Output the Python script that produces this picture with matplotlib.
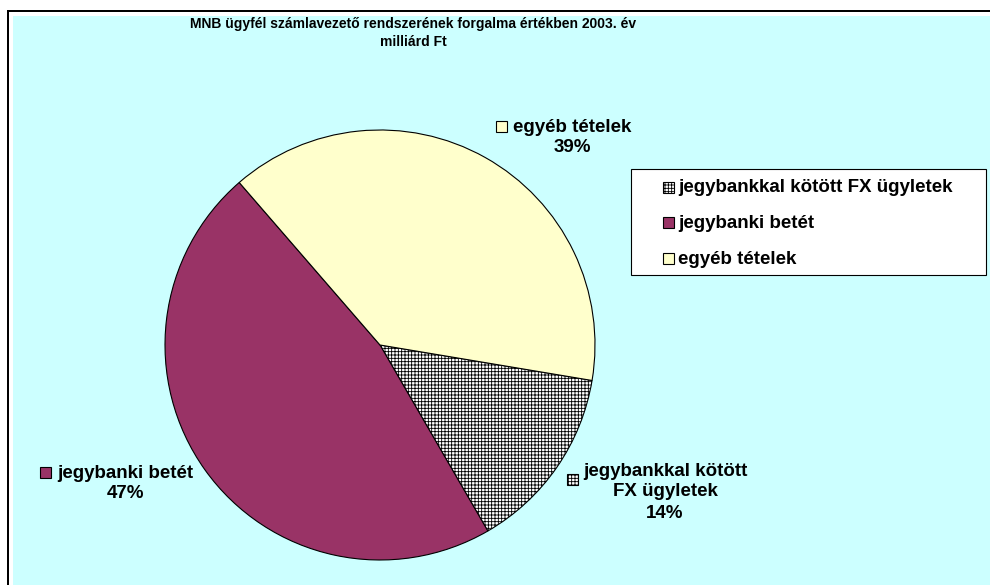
import matplotlib
matplotlib.use("Agg")
import matplotlib.pyplot as plt
from matplotlib.patches import Rectangle

# ==========================================
# DATA
# ==========================================
categories = ['jegybankkal kötött FX ügyletek', 'jegybanki betét', 'egyéb tételek']
label_text = ['jegybankkal kötött\nFX ügyletek', 'jegybanki betét', 'egyéb tételek']
shares = [14, 47, 39]
title = 'MNB ügyfél számlavezető rendszerének forgalma értékben 2003. év\nmilliárd Ft'

# ==========================================
# STYLE
# ==========================================
colors = ['white', '#993366', '#FFFFCC']
hatches = ['+++++', None, None]
bg = '#CCFFFF'

plt.rcParams['font.family'] = ['Liberation Sans', 'DejaVu Sans']
plt.rcParams['font.weight'] = 'bold'
plt.rcParams['hatch.linewidth'] = 0.6

W, H = 990, 585
fig = plt.figure(figsize=(W / 100, H / 100), dpi=100)
fig.patch.set_facecolor('white')


def fx(x):
    return x / W


def fy(y):
    return 1 - y / H


def px_rect(x0, y0, x1, y1, **kw):
    # rectangle given in pixel coords (y down)
    return Rectangle((fx(x0), fy(y1)), fx(x1) - fx(x0), fy(y0) - fy(y1),
                     transform=fig.transFigure, figure=fig, **kw)


def key_box(x0, y0, i):
    # small legend key square, 11 px
    return px_rect(x0, y0, x0 + 11, y0 + 11, facecolor=colors[i], edgecolor='black',
                   linewidth=0.8, hatch=hatches[i], zorder=5)


# chart frame: black top/left edge, white gap, cyan area
fig.patches.append(px_rect(7, 10, W + 5, H + 5, facecolor='black', edgecolor='none', zorder=-3))
fig.patches.append(px_rect(9, 12, W + 5, H + 5, facecolor='white', edgecolor='none', zorder=-2))
fig.patches.append(px_rect(13, 16, W + 5, H + 5, facecolor=bg, edgecolor='none', zorder=-1))

fig.text(fx(413), fy(33), title, ha='center', va='center', fontsize=10,
         linespacing=1.3)

# ==========================================
# PIE
# ==========================================
cx, cy, r = 380, 345, 215
ax = fig.add_axes([fx(cx - r), fy(cy + r), 2 * r / W, 2 * r / H])
ax.set_zorder(1)
wedges, _ = ax.pie(shares, colors=colors, startangle=-9.5, counterclock=False,
                   wedgeprops=dict(edgecolor='black', linewidth=0.8))
for w, h in zip(wedges, hatches):
    if h:
        w.set_hatch(h)
ax.set_xlim(-1, 1)
ax.set_ylim(-1, 1)
ax.set_axis_off()

# data labels: (text centre x, first line y, key box top-left)
label_pos = [
    (665, 471, (567, 474)),
    (125, 473, (40, 467)),
    (572, 127, (496, 121)),
]
for i, (tx, ty, (bx, by)) in enumerate(label_pos):
    lines = (label_text[i] + f"\n{shares[i]}%").split('\n')
    for k, line in enumerate(lines):
        fig.text(fx(tx), fy(ty + k * 21), line, ha='center', va='center',
                 fontsize=13.5, zorder=5)
    fig.patches.append(key_box(bx, by, i))

# legend, drawn by hand to match the box size
fig.patches.append(px_rect(631, 169, 986, 275, facecolor='white', edgecolor='black',
                           linewidth=0.8, zorder=4))
for i, name in enumerate(categories):
    yc = 188 + i * 35.5
    fig.patches.append(key_box(663, yc - 6, i))
    fig.text(fx(678), fy(yc), name, ha='left', va='center', fontsize=13.5, zorder=5)

fig.savefig('out.png', dpi=100, facecolor=fig.get_facecolor())
